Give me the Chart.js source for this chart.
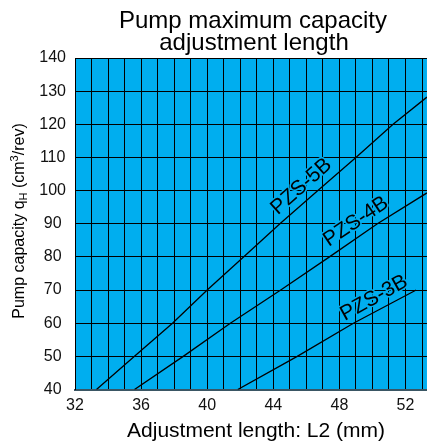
<!DOCTYPE html>
<html>
<head>
<meta charset="utf-8">
<script src="https://cdn.jsdelivr.net/npm/chart.js@4.4.1/dist/chart.umd.min.js"></script>
<style>
  html, body { margin: 0; padding: 0; background: #ffffff; }
  #wrap { width: 428px; height: 448px; }
</style>
</head>
<body>
<div id="wrap"><canvas id="c" width="428" height="448"></canvas></div>
<script>
// ---- Data ----
const xTickLabels = [32, 36, 40, 44, 48, 52];
const yTickLabels = [40, 50, 60, 70, 80, 90, 100, 110, 120, 130, 140];

const seriesNames = ['PZS-5B', 'PZS-4B', 'PZS-3B'];

const pzs5bL2 = [33.3, 35.6, 37.9, 40.0, 42.2, 44.4, 46.7, 49.0, 51.25, 53.3];
const pzs5bQ  = [40, 50, 60, 70, 80, 90, 100, 110, 120, 128.2];

const pzs4bL2 = [35.6, 38.55, 41.4, 44.45, 47.4, 50.3, 53.3];
const pzs4bQ  = [40, 50, 60, 70, 80, 90, 99.3];

const pzs3bL2 = [41.85, 45.45, 48.85, 52.65];
const pzs3bQ  = [40, 50, 60, 70];

const titleLines = ['Pump maximum capacity', 'adjustment length'];
const xTitle = 'Adjustment length: L2 (mm)';

// ---- helpers ----
const FONT = '"Liberation Sans", Arial, Helvetica, sans-serif';
const toPts = (xs, ys) => xs.map((x, i) => ({ x: x, y: ys[i] }));

const lineStyle = { borderColor: '#000', borderWidth: 1.3, pointRadius: 0, showLine: true, tension: 0, fill: false };

// label placement (style, not data)
const labelPlacement = [
  { x: 45.7, y: 101.2, angle: -41.7 },
  { x: 49.0, y: 90.6, angle: -34 },
  { x: 50.1, y: 67.6, angle: -29.1 }
];

const decorPlugin = {
  id: 'decor',
  beforeDraw(chart) {
    const { ctx, chartArea: a } = chart;
    ctx.save();
    ctx.fillStyle = '#ffffff';
    ctx.fillRect(0, 0, chart.width, chart.height);
    ctx.fillStyle = '#00aeef';
    ctx.fillRect(a.left, a.top, a.right - a.left, a.bottom - a.top);
    ctx.restore();
  },
  afterDraw(chart) {
    const { ctx, chartArea: a, scales } = chart;
    ctx.save();
    ctx.fillStyle = '#000';
    // main title
    ctx.font = '24px ' + FONT;
    ctx.textAlign = 'center';
    ctx.textBaseline = 'alphabetic';
    ctx.fillText(titleLines[0], 253, 27.5);
    ctx.fillText(titleLines[1], 254, 50);

    // x axis title
    ctx.font = '21px ' + FONT;
    ctx.fillText(xTitle, 256, 437);

    // y axis title with subscript/superscript
    const segs = [
      { t: 'Pump capacity q', f: 16, dy: 0 },
      { t: 'H', f: 11, dy: 3 },
      { t: ' (cm', f: 16, dy: 0 },
      { t: '3', f: 11, dy: -6 },
      { t: '/rev)', f: 16, dy: 0 }
    ];
    let total = 0;
    segs.forEach(s => { ctx.font = s.f + 'px ' + FONT; s.w = ctx.measureText(s.t).width; total += s.w; });
    ctx.translate(24, 221);
    ctx.rotate(-Math.PI / 2);
    ctx.textAlign = 'left';
    let cx = -total / 2;
    segs.forEach(s => { ctx.font = s.f + 'px ' + FONT; ctx.fillText(s.t, cx, s.dy); cx += s.w; });
    ctx.restore();

    // curve labels
    ctx.save();
    ctx.font = '21px ' + FONT;
    ctx.textAlign = 'center';
    ctx.textBaseline = 'middle';
    ctx.lineJoin = 'round';
    labelPlacement.forEach((p, i) => {
      const px = scales.x.getPixelForValue(p.x);
      const py = scales.y.getPixelForValue(p.y);
      ctx.save();
      ctx.translate(px, py);
      ctx.rotate(p.angle * Math.PI / 180);
      ctx.strokeStyle = '#00aeef';
      ctx.lineWidth = 3;
      ctx.strokeText(seriesNames[i], 0, 0);
      ctx.fillStyle = '#000';
      ctx.fillText(seriesNames[i], 0, 0);
      ctx.restore();
    });
    ctx.restore();
  }
};

new Chart(document.getElementById('c'), {
  type: 'scatter',
  data: {
    datasets: [
      Object.assign({ label: seriesNames[0], data: toPts(pzs5bL2, pzs5bQ) }, lineStyle),
      Object.assign({ label: seriesNames[1], data: toPts(pzs4bL2, pzs4bQ) }, lineStyle),
      Object.assign({ label: seriesNames[2], data: toPts(pzs3bL2, pzs3bQ) }, lineStyle)
    ]
  },
  options: {
    responsive: false,
    animation: false,
    devicePixelRatio: 1,
    layout: { padding: { top: 58, left: 0, right: 0, bottom: 0 } },
    plugins: { legend: { display: false }, title: { display: false }, tooltip: { enabled: false } },
    scales: {
      x: {
        type: 'linear',
        min: 32,
        max: 53.3,
        afterFit: s => { s.height = 58.5; },
        ticks: {
          stepSize: 1,
          includeBounds: false,
          autoSkip: false,
          maxRotation: 0,
          padding: 6,
          color: '#111',
          font: { family: FONT, size: 16 },
          callback: v => xTickLabels.includes(v) ? String(v) : ''
        },
        grid: { color: '#000', lineWidth: 1, drawTicks: false },
        border: { display: true, color: '#3a5664', width: 2 }
      },
      y: {
        type: 'linear',
        min: yTickLabels[0],
        max: yTickLabels[yTickLabels.length - 1],
        afterFit: s => { s.width = 75; },
        afterBuildTicks: s => { s.ticks = yTickLabels.map(v => ({ value: v })); },
        ticks: {
          crossAlign: 'center',
          padding: 9,
          color: '#111',
          font: { family: FONT, size: 16 }
        },
        grid: { color: '#000', lineWidth: 1, drawTicks: false },
        border: { display: true, color: '#000', width: 1 }
      }
    }
  },
  plugins: [decorPlugin]
});
</script>
</body>
</html>
